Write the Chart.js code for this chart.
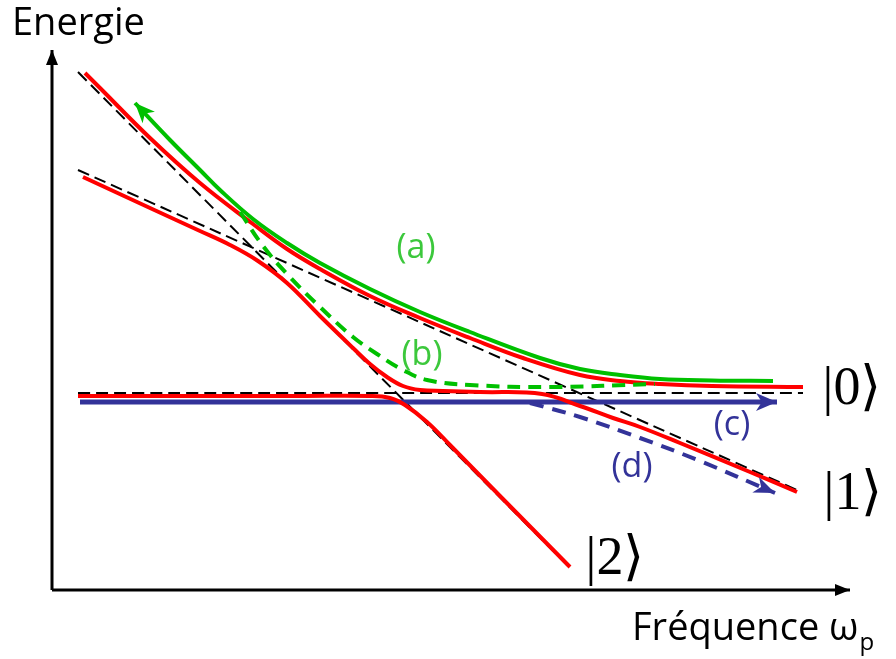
<!DOCTYPE html>
<html>
<head>
<meta charset="utf-8">
<title>Energie</title>
<script src="https://cdn.jsdelivr.net/npm/chart.js@4"></script>
<style>
  html, body { margin: 0; padding: 0; background: #fff; }
  canvas { display: block; }
</style>
</head>
<body>
<canvas id="levelChart" width="896" height="659"></canvas>
<script>
// bare levels (black dashed), [frequency, energy]
const bareLevel0 = [[2.6, 19.7], [75.1, 19.7]];
const bareLevel1 = [[2.6, 42.0], [74.5, 10.0]];
const bareLevel2 = [[2.6, 51.8], [51.8, 2.2]];

// dressed levels (red)
const dressedUpper = [[3.3, 51.7], [4.8, 50.2], [9.8, 45.2], [14.8, 40.7], [20.1, 36.6], [23.5, 34.1],
  [26.8, 32.1], [31.8, 29.4], [36.8, 27.2], [41.8, 25.2], [47.1, 23.2], [52.8, 21.5], [56.8, 20.9],
  [60.8, 20.6], [66.0, 20.4], [75.1, 20.3]];
const dressedMiddle = [[3.1, 41.3], [9.8, 38.2], [14.8, 35.9], [17.8, 34.5], [20.6, 32.9], [23.5, 30.7],
  [26.8, 27.4], [30.1, 24.2], [31.8, 22.6], [33.5, 21.3], [35.1, 20.4], [36.8, 20.0],
  [39.1, 19.9], [42.8, 19.8], [49.0, 19.6], [52.8, 18.4], [56.1, 17.2], [58.8, 16.3], [62.8, 14.7],
  [69.8, 11.8], [74.5, 9.8]];
const dressedLower = [[2.6, 19.4], [14.8, 19.4], [24.8, 19.4], [31.8, 19.4], [33.8, 19.2], [35.3, 18.5],
  [37.5, 16.8], [39.8, 14.5], [44.8, 9.4], [51.8, 2.3]];

// sweep paths (a)-(d)
const pathA = [[8.3, 48.7], [11.8, 45.0], [14.8, 42.0], [16.8, 40.0], [20.1, 37.1], [23.5, 34.7],
  [26.8, 32.7], [31.8, 30.1], [36.8, 27.8], [41.8, 25.8], [48.8, 23.2], [52.8, 22.1], [56.8, 21.5],
  [60.8, 21.1], [66.0, 20.95], [72.1, 20.9]];
const pathB = [[18.8, 37.8], [21.1, 34.4], [23.5, 31.6], [26.8, 28.3], [30.1, 25.3], [32.5, 23.6],
  [35.1, 22.0], [37.5, 21.0], [41.8, 20.5], [49.8, 20.3], [60.3, 20.6]];
const pathC = [[2.8, 18.8], [72.5, 18.8]];
const pathD = [[47.8, 18.7], [52.8, 17.3], [58.8, 15.2], [64.8, 12.9], [72.3, 9.7]];

// axes
const axisX = [[0, 0], [79.8, 0]];
const axisY = [[0, 0], [0, 54.0]];

const pathLabels = ['(a)', '(b)', '(c)', '(d)'];
const levelLabels = ['|0\u27E9', '|1\u27E9', '|2\u27E9'];
const axisTitles = ['Energie', 'Fr\u00E9quence \u03C9', 'p'];

const RED = '#ff0000';
const GREEN = '#00c000';
const GREEN_TEXT = '#3cc83c';
const BLUE = '#333399';

const pts = arr => arr.map(([x, y]) => ({ x, y }));

function line(data, color, width, extra) {
  return Object.assign({
    data: pts(data),
    showLine: true,
    borderColor: color,
    backgroundColor: color,
    borderWidth: width,
    pointRadius: 0,
    fill: false,
    clip: false,
    tension: 0.4
  }, extra || {});
}

// arrow heads at the ends of flagged datasets
function arrowHead(ctx, tip, from, len, wid, color, notch) {
  const a = Math.atan2(tip.y - from.y, tip.x - from.x);
  ctx.save();
  ctx.translate(tip.x, tip.y);
  ctx.rotate(a);
  ctx.fillStyle = color;
  ctx.beginPath();
  ctx.moveTo(0, 0);
  ctx.lineTo(-len, -wid / 2);
  ctx.lineTo(-len * notch, 0);
  ctx.lineTo(-len, wid / 2);
  ctx.closePath();
  ctx.fill();
  ctx.restore();
}

const arrowPlugin = {
  id: 'arrows',
  afterDatasetsDraw(chart) {
    const ctx = chart.ctx;
    chart.data.datasets.forEach((ds, i) => {
      if (!ds.arrow) return;
      const el = chart.getDatasetMeta(i).data;
      const n = el.length;
      const tip = ds.arrow === 'start' ? el[0] : el[n - 1];
      const from = ds.arrow === 'start' ? el[1] : el[n - 2];
      arrowHead(ctx, tip, from, ds.arrowLen, ds.arrowWid, ds.borderColor, ds.arrowNotch || 0.72);
    });
  }
};

// text labels placed in data coordinates
const labelPlugin = {
  id: 'labels',
  afterDraw(chart) {
    const ctx = chart.ctx;
    const sx = chart.scales.x, sy = chart.scales.y;
    const put = (text, x, y, font, color, align, base) => {
      ctx.font = font;
      ctx.fillStyle = color;
      ctx.textAlign = align || 'center';
      ctx.textBaseline = base || 'middle';
      ctx.fillText(text, sx.getPixelForValue(x), sy.getPixelForValue(y));
    };
    ctx.save();
    const sans = '"Open Sans", sans-serif';
    put(pathLabels[0], 36.4, 34.2, '34px ' + sans, GREEN_TEXT);
    put(pathLabels[1], 37.0, 23.5, '34px ' + sans, GREEN_TEXT);
    put(pathLabels[2], 68.0, 16.5, '34px ' + sans, BLUE);
    put(pathLabels[3], 58.0, 12.3, '34px ' + sans, BLUE);

    const serif = '54px "Liberation Serif", serif';
    put(levelLabels[0], 80.0, 20.0, serif, '#000');
    put(levelLabels[1], 80.1, 9.5, serif, '#000');
    put(levelLabels[2], 56.3, 3.0, serif, '#000');

    put(axisTitles[0], -4.0, 55.5, '38px ' + sans, '#000', 'left', 'alphabetic');
    put(axisTitles[1], 58.0, -5.0, '38px ' + sans, '#000', 'left', 'alphabetic');
    ctx.font = '38px ' + sans;
    const w = ctx.measureText(axisTitles[1]).width;
    ctx.font = '24px ' + sans;
    ctx.textAlign = 'left';
    ctx.fillText(axisTitles[2], sx.getPixelForValue(58.0) + w + 1, sy.getPixelForValue(-6.0));
    ctx.restore();
  }
};

new Chart(document.getElementById('levelChart'), {
  type: 'scatter',
  data: {
    datasets: [
      line(pathB, GREEN, 4, { borderDash: [13, 8], order: 1 }),
      line(pathA, GREEN, 4, { order: 2, arrow: 'start', arrowLen: 20, arrowWid: 17 }),
      line(dressedUpper, RED, 4, { order: 3 }),
      line(dressedMiddle, RED, 4, { order: 3 }),
      line(dressedLower, RED, 4, { order: 3 }),
      line(pathD, BLUE, 4, { borderDash: [14, 9], order: 4, arrow: 'end', arrowLen: 21, arrowWid: 17 }),
      line(pathC, BLUE, 5, { order: 4, arrow: 'end', arrowLen: 21, arrowWid: 18 }),
      line(bareLevel0, '#000', 2, { borderDash: [12, 6], order: 5 }),
      line(bareLevel1, '#000', 2, { borderDash: [12, 6], order: 5 }),
      line(bareLevel2, '#000', 2, { borderDash: [12, 6], order: 5 }),
      line(axisX, '#000', 3, { order: 6, arrow: 'end', arrowLen: 15, arrowWid: 12, arrowNotch: 1 }),
      line(axisY, '#000', 3, { order: 6, arrow: 'end', arrowLen: 15, arrowWid: 12, arrowNotch: 1 })
    ]
  },
  options: {
    responsive: false,
    animation: false,
    layout: { padding: 0 },
    plugins: { legend: { display: false }, tooltip: { enabled: false } },
    scales: {
      x: { type: 'linear', display: false, min: -5.2, max: 84.4 },
      y: { type: 'linear', display: false, min: -6.9, max: 59.0 }
    }
  },
  plugins: [arrowPlugin, labelPlugin]
});
</script>
</body>
</html>
